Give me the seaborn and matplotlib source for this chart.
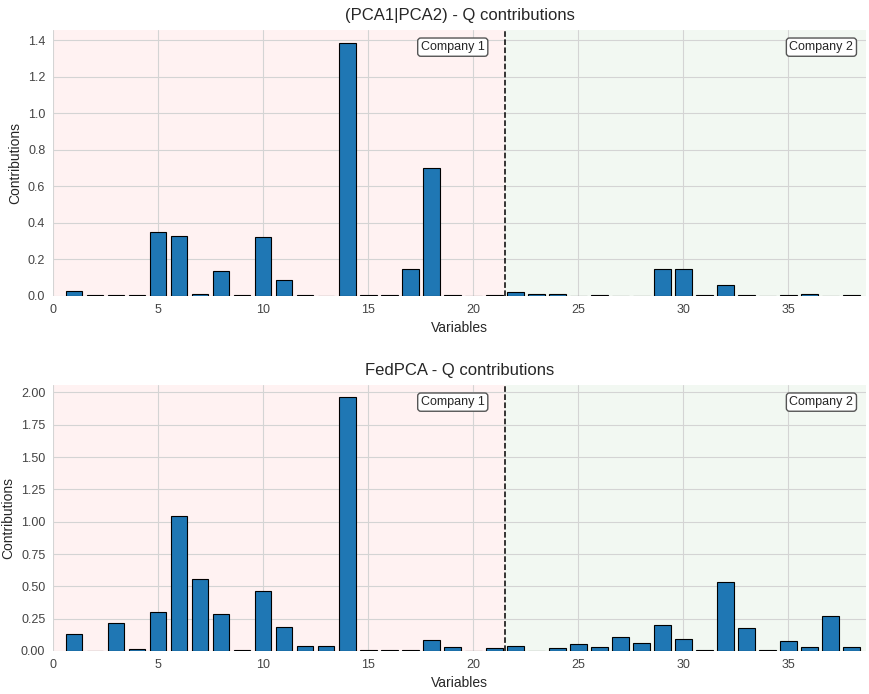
import numpy as np
import pandas as pd
import seaborn as sns
import matplotlib.pyplot as plt

# variable index 1..38 (company 1: 1-21, company 2: 22-38)
variables = list(range(1, 39))

q_pca = [0.027, 0.003, 0.005, 0.005, 0.350, 0.328, 0.010, 0.137, 0.005, 0.324,
         0.088, 0.003, 0.000, 1.387, 0.003, 0.005, 0.148, 0.700, 0.005, 0.000,
         0.003, 0.022, 0.012, 0.012, 0.000, 0.004, 0.001, 0.001, 0.145, 0.150,
         0.004, 0.059, 0.008, 0.000, 0.004, 0.010, 0.001, 0.004]

q_fed = [0.132, 0.002, 0.215, 0.018, 0.298, 1.048, 0.559, 0.287, 0.005, 0.466,
         0.184, 0.039, 0.039, 1.961, 0.008, 0.004, 0.008, 0.083, 0.034, 0.000,
         0.021, 0.036, 0.002, 0.026, 0.057, 0.028, 0.106, 0.060, 0.202, 0.093,
         0.005, 0.533, 0.176, 0.005, 0.080, 0.028, 0.269, 0.028]

titles = ['(PCA1|PCA2) - Q contributions', 'FedPCA - Q contributions']
split = 21.5
x_max = 38.7

sns.set_style("whitegrid")
plt.rcParams['font.family'] = ['Liberation Sans', 'DejaVu Sans']

fig = plt.figure(figsize=(8.69, 6.94), dpi=100)
ax1 = fig.add_axes([0.061, 0.5735, 0.9355, 0.3835])
ax2 = fig.add_axes([0.061, 0.062, 0.9355, 0.3835])

for ax, vals, title in zip([ax1, ax2], [q_pca, q_fed], titles):
    df = pd.DataFrame({'var': variables, 'q': vals})
    ax.axvspan(0, split, color='red', alpha=0.05, lw=0, zorder=0)
    ax.axvspan(split, x_max, color='green', alpha=0.05, lw=0, zorder=0)
    sns.barplot(data=df, x='var', y='q', native_scale=True, color='#1f77b4',
                saturation=1, edgecolor='black', linewidth=0.8, ax=ax, zorder=3)
    ax.axvline(split, color='black', ls='--', lw=1.1, zorder=4)
    ax.set_xlim(0, x_max)
    ax.set_title(title, fontsize=12, pad=7)
    ax.set_xlabel('Variables', fontsize=10)
    ax.set_ylabel('Contributions', fontsize=10)
    ax.tick_params(labelsize=9, colors='#444444', pad=2)
    ax.grid(True, color='#d4d4d4', lw=0.8, zorder=1)
    ax.set_axisbelow(True)
    for s in ax.spines.values():
        s.set_visible(False)
    box = dict(boxstyle='round,pad=0.25', fc='white', ec='#555555', lw=1)
    ax.text(20.55, 0.935, 'Company 1', transform=ax.get_xaxis_transform(),
            ha='right', va='center', fontsize=9, bbox=box, zorder=5)
    ax.text(38.1, 0.935, 'Company 2', transform=ax.get_xaxis_transform(),
            ha='right', va='center', fontsize=9, bbox=box, zorder=5)

fig.savefig('out.png', dpi=100)
